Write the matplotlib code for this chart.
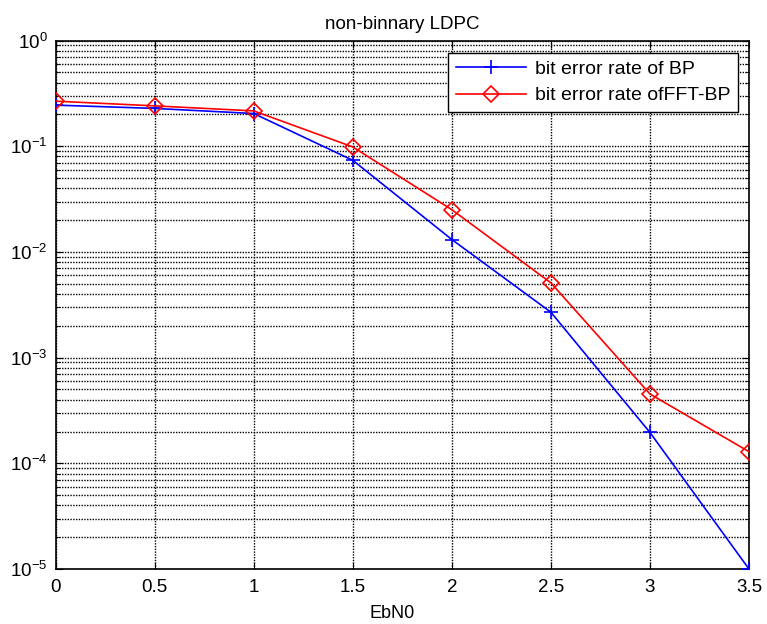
import matplotlib
matplotlib.use("Agg")
import matplotlib.pyplot as plt
from matplotlib.ticker import LogLocator, NullFormatter

plt.rcParams['font.family'] = ['Liberation Sans', 'DejaVu Sans']
plt.rcParams['mathtext.fontset'] = 'custom'
plt.rcParams['mathtext.rm'] = 'Liberation Sans'
plt.rcParams['mathtext.it'] = 'Liberation Sans'
plt.rcParams['axes.unicode_minus'] = False

ebn0 = [0, 0.5, 1, 1.5, 2, 2.5, 3, 3.5]
ber_bp = [0.245, 0.228, 0.204, 0.0736, 0.0131, 0.00269, 1.96e-4, 1.0e-5]
ber_fft = [0.267, 0.241, 0.216, 0.0985, 0.0251, 0.0051, 4.53e-4, 1.29e-4]
xticks = [0, 0.5, 1, 1.5, 2, 2.5, 3, 3.5]
yticks = [1e-5, 1e-4, 1e-3, 1e-2, 1e-1, 1e0]
ytick_labels = ['$10^{-5}$', '$10^{-4}$', '$10^{-3}$', '$10^{-2}$', '$10^{-1}$', '$10^{0}$']

fig = plt.figure(figsize=(7.67, 6.24), dpi=100)
ax = fig.add_axes([0.0726, 0.0881, 0.9039, 0.8469])

ax.semilogy(ebn0, ber_bp, color='blue', marker='+', markersize=10, markeredgewidth=1.2,
            linewidth=1.2, label='bit error rate of BP', zorder=3)
ax.semilogy(ebn0, ber_fft, color='red', marker='D', markersize=8.5, markerfacecolor='none',
            markeredgecolor='red', markeredgewidth=1.2, linewidth=1.2,
            label='bit error rate ofFFT-BP', zorder=3)

ax.set_xlim(0, 3.5)
ax.set_ylim(1e-5, 1e0)
ax.set_xticks(xticks)
ax.set_xticklabels([('%g' % v) for v in xticks])
ax.set_yticks(yticks)
ax.set_yticklabels(ytick_labels)
ax.yaxis.set_minor_locator(LogLocator(base=10, subs=range(2, 10), numticks=20))
ax.yaxis.set_minor_formatter(NullFormatter())

grid_style = dict(color='black', linestyle=(0, (1, 1)), linewidth=1.0)
ax.grid(True, which='major', axis='both', **grid_style)
ax.grid(True, which='minor', axis='y', **grid_style)
ax.set_axisbelow(True)

ax.tick_params(which='both', direction='in', top=True, right=True, labelsize=13.5)
ax.tick_params(axis='x', pad=7)
ax.tick_params(axis='y', pad=6)
ax.tick_params(which='major', length=5)
ax.tick_params(which='minor', length=3)
for s in ax.spines.values():
    s.set_linewidth(1.2)

ax.set_title('non-binnary LDPC', fontsize=13.5, pad=8)
ax.set_xlabel('EbN0', fontsize=13)
ax.xaxis.set_label_coords(0.485, -0.068)

leg = ax.legend(loc='upper right', bbox_to_anchor=(0.984, 0.977), fontsize=14,
                frameon=True, fancybox=False, edgecolor='black', framealpha=1,
                handlelength=3.6, handletextpad=0.45, borderpad=0.4, labelspacing=0.45,
                borderaxespad=0)
leg.get_frame().set_linewidth(1.0)

fig.savefig('out.png', dpi=100, facecolor='white')
